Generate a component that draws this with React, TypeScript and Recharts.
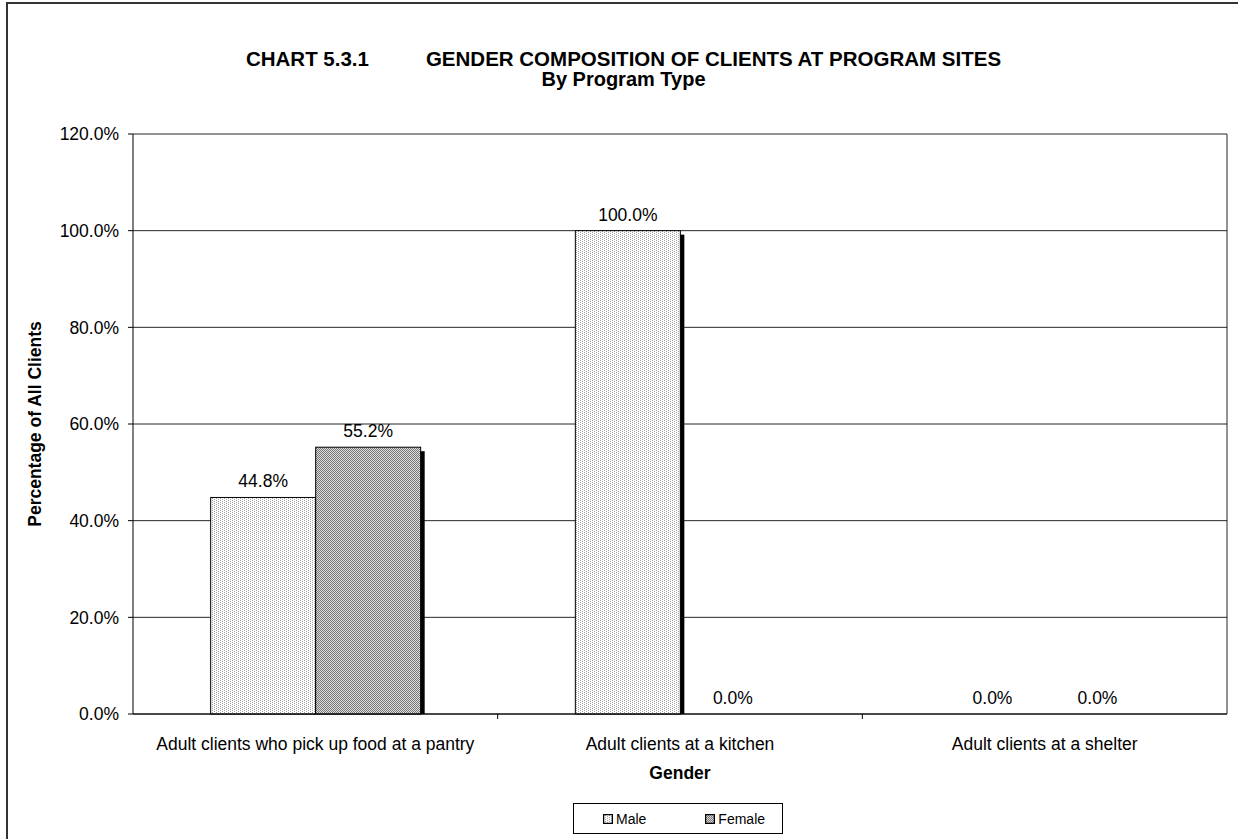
import React from "react";
import {
	BarChart,
	Bar,
	XAxis,
	YAxis,
	CartesianGrid,
	LabelList,
} from "recharts";

const categories = [
	"Adult clients who pick up food at a pantry",
	"Adult clients at a kitchen",
	"Adult clients at a shelter",
];
const maleValues = [44.8, 100.0, 0.0];
const femaleValues = [55.2, 0.0, 0.0];
const yTicks = [0, 20, 40, 60, 80, 100, 120];

const data = categories.map((name, i) => ({
	name,
	male: maleValues[i],
	female: femaleValues[i],
}));

const FONT = "'Liberation Sans', Arial, sans-serif";
const pct = (v: number) => `${Number(v).toFixed(1)}%`;

const PatternDefs = ({ prefix }: { prefix: string }) => (
	<defs>
		<pattern id={`${prefix}-male`} width="4" height="2" patternUnits="userSpaceOnUse">
			<rect width="4" height="2" fill="#ffffff" />
			<rect x="0" y="0" width="1" height="1" fill="#a0a0a0" />
			<rect x="2" y="1" width="1" height="1" fill="#a0a0a0" />
		</pattern>
		<pattern id={`${prefix}-female`} width="2" height="2" patternUnits="userSpaceOnUse">
			<rect width="2" height="2" fill="#dcdcdc" />
			<rect x="0" y="0" width="1" height="1" fill="#787878" />
			<rect x="1" y="1" width="1" height="1" fill="#787878" />
		</pattern>
	</defs>
);

// bar with the black drop shadow on the right
const ShadowBar = (props: any) => {
	const { x, y, width, height, fill } = props;
	if (!height || height <= 0) return null;
	return (
		<g>
			<rect x={x + 4} y={y + 4} width={width} height={Math.max(height - 4, 0)} fill="#000" />
			<rect x={x} y={y} width={width} height={height} fill={fill} stroke="#000" strokeWidth={1} />
		</g>
	);
};

const CategoryTick = (props: any) => {
	const { x, y, payload, index } = props;
	const half = payload && payload.offset ? payload.offset : 182.3;
	return (
		<g>
			<text x={x} y={y + 36} textAnchor="middle" fontSize={17.5} fontFamily={FONT} fill="#000">
				{payload.value}
			</text>
			{index < categories.length - 1 && (
				<line x1={x + half} x2={x + half} y1={y} y2={y + 5} stroke="#000" />
			)}
		</g>
	);
};

const LegendIcon = ({ id }: { id: string }) => (
	<svg width="10" height="10" style={{ marginRight: 3 }}>
		<PatternDefs prefix="lg" />
		<rect x="0.5" y="0.5" width="9" height="9" fill={`url(#lg-${id})`} stroke="#000" strokeWidth={1.5} />
	</svg>
);

export default function App() {
	return (
		<div
			style={{
				position: "fixed",
				left: 0,
				top: 0,
				width: 1238,
				height: 839,
				overflow: "hidden",
				background: "#fff",
				fontFamily: FONT,
			}}
		>
			{/* outer chart frame, runs off the right and bottom edges */}
			<div
				style={{
					position: "absolute",
					left: 6,
					top: 2,
					width: 1260,
					height: 880,
					border: "2px solid #333",
				}}
			/>
			<div
				style={{
					position: "absolute",
					left: 7,
					width: 1233,
					top: 48,
					textAlign: "center",
					fontWeight: "bold",
					fontSize: 20.5,
					lineHeight: "21px",
					whiteSpace: "pre",
				}}
			>
				{"CHART 5.3.1          GENDER COMPOSITION OF CLIENTS AT PROGRAM SITES"}
				<div style={{ fontSize: 20 }}>By Program Type</div>
			</div>
			<div
				style={{
					position: "absolute",
					left: 35,
					top: 424,
					transform: "translate(-50%, -50%) rotate(-90deg)",
					fontWeight: "bold",
					fontSize: 17.5,
					whiteSpace: "nowrap",
				}}
			>
				Percentage of All Clients
			</div>
			<div
				style={{
					position: "absolute",
					left: 680,
					top: 773,
					transform: "translate(-50%, -50%)",
					fontWeight: "bold",
					fontSize: 17.5,
				}}
			>
				Gender
			</div>
			{/* legend */}
			<div
				style={{
					position: "absolute",
					left: 573,
					top: 803,
					width: 210,
					height: 31,
					boxSizing: "border-box",
					border: "1.5px solid #000",
					display: "flex",
					alignItems: "center",
					fontSize: 14,
				}}
			>
				<div style={{ display: "flex", alignItems: "center", marginLeft: 29 }}>
					<LegendIcon id="male" />
					Male
				</div>
				<div style={{ display: "flex", alignItems: "center", marginLeft: 59 }}>
					<LegendIcon id="female" />
					Female
				</div>
			</div>
			<div style={{ position: "absolute", left: 0, top: 0 }}>
				<BarChart
					width={1238}
					height={839}
					data={data}
					margin={{ top: 134, right: 11, bottom: 85, left: 13 }}
					barCategoryGap="21.3%"
					barGap={0}
				>
					<PatternDefs prefix="ch" />
					<CartesianGrid
						stroke="#000"
						strokeOpacity={0.85}
						verticalCoordinatesGenerator={({ offset }: any) => [offset.left + offset.width]}
					/>
					<XAxis
						dataKey="name"
						height={40}
						tickSize={0}
						tickMargin={0}
						tick={<CategoryTick />}
						axisLine={{ stroke: "#000" }}
						tickLine={false}
						interval={0}
					/>
					<YAxis
						width={120}
						domain={[0, 120]}
						ticks={yTicks}
						tickFormatter={pct}
						tickSize={5}
						tickMargin={9}
						tick={{ fill: "#000", fontSize: 17.5, fontFamily: FONT }}
						axisLine={{ stroke: "#000" }}
						tickLine={{ stroke: "#000" }}
						interval={0}
					/>
					<Bar dataKey="male" fill="url(#ch-male)" shape={<ShadowBar />} isAnimationActive={false}>
						<LabelList
							dataKey="male"
							position="top"
							offset={10}
							formatter={(v: any) => pct(v)}
							style={{ fill: "#000", fontSize: 17.5, fontFamily: FONT }}
						/>
					</Bar>
					<Bar dataKey="female" fill="url(#ch-female)" shape={<ShadowBar />} isAnimationActive={false}>
						<LabelList
							dataKey="female"
							position="top"
							offset={10}
							formatter={(v: any) => pct(v)}
							style={{ fill: "#000", fontSize: 17.5, fontFamily: FONT }}
						/>
					</Bar>
				</BarChart>
			</div>
		</div>
	);
}
